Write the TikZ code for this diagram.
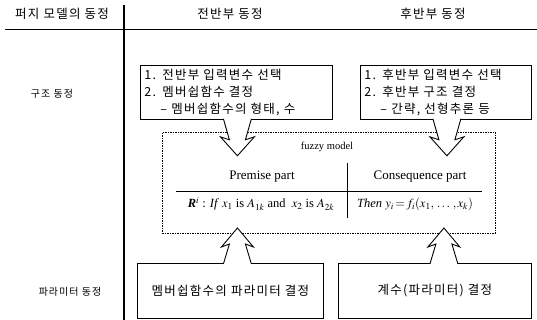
\documentclass[tikz,border=0pt]{standalone}
\usepackage{mathptmx}
\usepackage[no-math]{fontspec}
\setmainfont{Liberation Serif}
\newfontfamily\kr{Noto Sans CJK KR}[LetterSpace=10]
\begin{document}
\begin{tikzpicture}[x=1pt,y=-1pt,
			kbox/.style={
				draw=black,
				line width=0.8pt,
				align=left,
				anchor=north west,
				inner xsep=4pt,
				inner ysep=0pt,
				font=\kr\fontsize{12.5}{17}\selectfont
			},
			pbox/.style={
				draw=black,
				line width=0.8pt,
				anchor=north west,
				font=\kr\fontsize{12.5}{15}\selectfont
			},
			hd/.style={font=\kr\fontsize{12.5}{15}\selectfont},
			lb/.style={font=\kr\fontsize{10}{12}\selectfont},
			en/.style={font=\fontsize{13}{15}\selectfont},
			fm/.style={font=\fontsize{12.5}{14}\selectfont},
			darr/.pic={
				\draw[line width=0.9pt,fill=white] (-14,-1)--(-8,20)--(-17,17)--(0,36)--(17,17)--(8,20)--(14,-1);
			},
			uarr/.pic={
				\draw[line width=0.9pt,fill=white] (-14,1)--(-8,-19)--(-16,-16)--(0,-35)--(16,-16)--(8,-19)--(14,1);
			}
			]
			\useasboundingbox (0,0) rectangle (537,320);
			%---------------- header ----------------
			\draw[line width=0.8pt] (5,29)--(537,29);
			\draw[line width=1.2pt] (124,5)--(124,320);
			\node[hd] (h0) at (62,14) {퍼지 모델의 동정};
			\node[hd] (h1) at (230,14) {전반부 동정};
			\node[hd] (h2) at (433,14) {후반부 동정};
			\node[lb] (l1) at (52,94) {구조 동정};
			\node[lb] (l2) at (70,292) {파라미터 동정};
			%---------------- structure ----------------
			\node[kbox,text width=184pt,minimum height=54pt] (s1) at (140,65)
				{1. 전반부 입력변수 선택\\2. 멤버쉽함수 결정\\\hspace*{16pt}– 멤버쉽함수의 형태, 수};
			\node[kbox,text width=163pt,minimum height=54pt] (s2) at (360,65)
				{1. 후반부 입력변수 선택\\2. 후반부 구조 결정\\\hspace*{16pt}– 간략, 선형추론 등};
			%---------------- fuzzy model ----------------
			\node[draw,line width=0.9pt,dash pattern=on 1.5pt off 1pt,anchor=north west,
				minimum width=333pt,minimum height=101pt] (fz) at (162,132) {};
			\node[font=\fontsize{10.5}{12}\selectfont] (ft) at (327,147) {fuzzy model};
			\node[en] (pp) at (262,177) {Premise part};
			\node[en] (cp) at (420,177) {Consequence part};
			\node[fm] (ru) at (261,204)
				{\textbf{\textit{R}}$^i$ : \textit{If} $x_1$ is $A_{1k}$ and \ $x_2$ is $A_{2k}$};
			\node[fm] (th) at (415,204)
				{\textit{Then} $y_i\!=\!f_i(x_1,\,\ldots\,,x_k)$};
			\draw[line width=1pt] (176,192)--(482,192);
			\draw[line width=1pt] (347,163)--(347,218);
			%---------------- parameter ----------------
			\node[pbox,minimum width=186pt,minimum height=55pt] (p1) at (137,263) {멤버쉽함수의 파라미터 결정};
			\node[pbox,minimum width=193pt,minimum height=55pt] (p2) at (338,263) {계수(파라미터) 결정};
			%---------------- arrows ----------------
			\pic at ([xshift=1pt]s1.south) {darr};
			\pic at ([xshift=1pt]s2.south) {darr};
			\pic at ([xshift=7pt]p1.north) {uarr};
			\pic at ([xshift=9pt]p2.north) {uarr};
		\end{tikzpicture}
\end{document}
